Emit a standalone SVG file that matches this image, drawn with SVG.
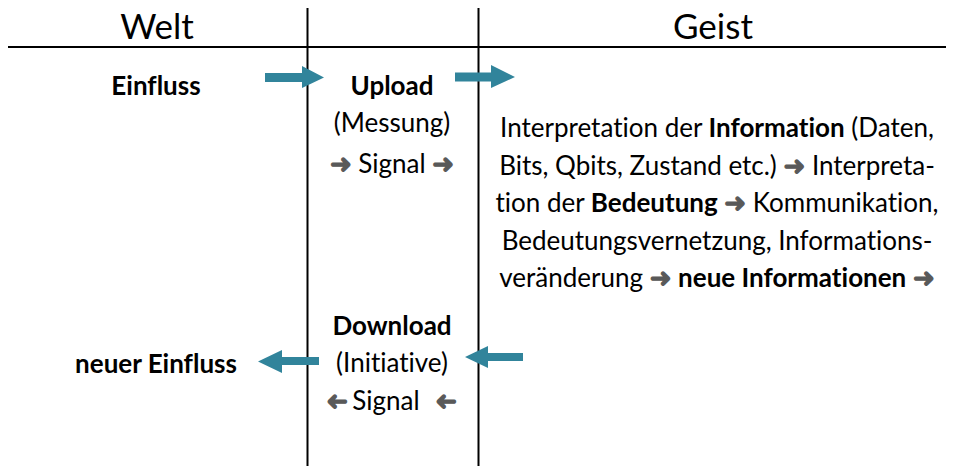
<svg xmlns="http://www.w3.org/2000/svg" width="954" height="466" viewBox="0 0 954 466">
<style>
text{font-family:Lato,"Open Sans","Liberation Sans",sans-serif;font-size:26px;fill:#000;text-anchor:middle;font-variant-ligatures:none}
.h{font-size:35px}
.b{font-weight:bold}
.ar{font-family:"DejaVu Sans",sans-serif;fill:#595959;stroke:#595959;stroke-width:1.2;font-size:26px}
.arrow{fill:#31849B}
.ln{stroke:#000;stroke-width:2;fill:none}
</style>
<rect width="954" height="466" fill="#fff"/>
<g id="grid">
<line class="ln" x1="8" y1="47" x2="946" y2="47"/>
<line class="ln" x1="307.5" y1="8" x2="307.5" y2="466"/>
<line class="ln" x1="478.5" y1="8" x2="478.5" y2="466"/>
</g>
<g id="header-welt"><text class="h" x="157" y="39">Welt</text></g>
<g id="header-geist"><text class="h" x="713" y="39">Geist</text></g>
<g id="einfluss"><text class="b" x="156" y="95">Einfluss</text></g>
<g id="upload">
<text class="b" x="392" y="95">Upload</text>
<text x="392" y="132">(Messung)</text>
<text x="392" y="173"><tspan class="ar">➜</tspan> Signal <tspan class="ar">➜</tspan></text>
</g>
<g id="geist-text">
<text x="717" y="137">Interpretation der <tspan class="b">Information</tspan> (Daten,</text>
<text x="717" y="174.5">Bits, Qbits, Zustand etc.) <tspan class="ar">➜</tspan> Interpreta-</text>
<text x="717" y="212">tion der <tspan class="b">Bedeutung</tspan> <tspan class="ar">➜</tspan> Kommunikation,</text>
<text x="717" y="249.5">Bedeutungsvernetzung, Informations-</text>
<text x="717" y="287">veränderung <tspan class="ar">➜</tspan> <tspan class="b">neue Informationen</tspan> <tspan class="ar">➜</tspan></text>
</g>
<g id="download">
<text class="b" x="392" y="335">Download</text>
<text x="392" y="372">(Initiative)</text>
<text x="386" y="410">Signal</text>
<text class="ar" x="-337" y="410" transform="scale(-1,1)">➜</text>
<text class="ar" x="-446" y="410" transform="scale(-1,1)">➜</text>
</g>
<g id="neuer-einfluss"><text class="b" x="156" y="373">neuer Einfluss</text></g>
<g id="connectors">
<polygon class="arrow" points="265,73 302,73 302,66 324,77.5 302,88 302,82 265,82"/>
<polygon class="arrow" points="455,72.5 491,72.5 491,65 515,77 491,88 491,81.5 455,81.5"/>
<polygon class="arrow" points="319,357 282,357 282,350 258,361.5 282,373 282,365 319,365"/>
<polygon class="arrow" points="523,353 488,353 488,346 465,357 488,368 488,361 523,361"/>
</g>
</svg>
